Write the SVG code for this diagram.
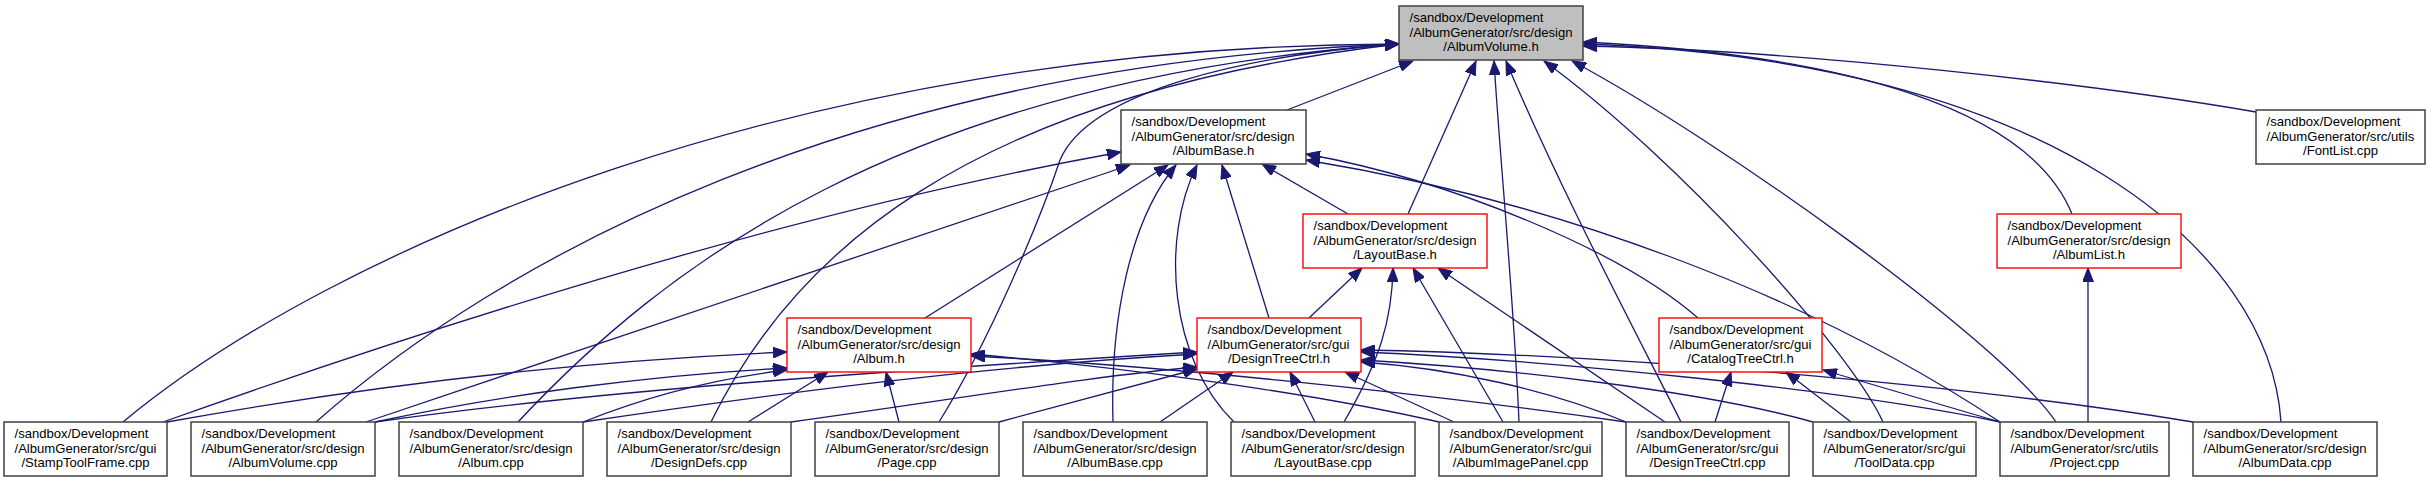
<svg xmlns="http://www.w3.org/2000/svg" width="2432" height="483" viewBox="0 0 2432 483">
<style>
  .bg { fill: #ffffff; }
  .nb { fill: #ffffff; stroke: #404040; stroke-width: 1.5; }
  .nr { fill: #ffffff; stroke: #ff0000; stroke-width: 1.4; }
  .ng { fill: #bfbfbf; stroke: #404040; stroke-width: 1.5; }
  text { font-family: "Liberation Sans", Arial, sans-serif; font-size: 13.1px; fill: #000000; }
  .c { text-anchor: middle; }
  .e { fill: none; stroke: #191970; stroke-width: 1.3; marker-end: url(#arr); }
</style>
<defs>
  <marker id="arr" markerWidth="15" markerHeight="11" refX="14" refY="5.5" orient="auto" markerUnits="userSpaceOnUse">
    <path d="M0,0 L14,5.5 L0,11 z" fill="#191970" stroke="#191970" stroke-width="1"/>
  </marker>
</defs>
<rect class="bg" x="0" y="0" width="2432" height="483"/>

<g id="connectors">
  <!-- to AlbumVolume.h -->
  <path class="e" d="M1287,110 L1413,61"/>
  <path class="e" d="M1408,214 L1476,61"/>
  <path class="e" d="M1519,422 C1514,300 1500,160 1494,61"/>
  <path class="e" d="M1681,422 C1640,340 1560,190 1506,61"/>
  <path class="e" d="M1883,422 C1850,350 1680,160 1544,61"/>
  <path class="e" d="M2056,422 C2000,340 1720,140 1572,61"/>
  <path class="e" d="M2281,422 C2270,250 2050,60 1583,44"/>
  <path class="e" d="M2072,214 C2030,110 1850,55 1583,42"/>
  <path class="e" d="M2256,112 C2100,85 1800,50 1583,46"/>
  <path class="e" d="M123,422 C330,250 800,45 1399,44"/>
  <path class="e" d="M316,422 C500,260 850,65 1399,44"/>
  <path class="e" d="M518,422 C660,270 900,80 1399,44"/>
  <path class="e" d="M711,422 C790,260 960,95 1399,44"/>
  <path class="e" d="M939,422 C990,340 1040,220 1060,160 C1090,90 1250,55 1399,44"/>
  <!-- to AlbumBase.h -->
  <path class="e" d="M163,422 C450,320 800,210 1121,152"/>
  <path class="e" d="M366,422 L1130,165"/>
  <path class="e" d="M925,318 L1168,165"/>
  <path class="e" d="M1113,422 C1110,320 1130,220 1176,165"/>
  <path class="e" d="M1234,422 C1170,360 1160,240 1197,165"/>
  <path class="e" d="M1269,318 L1222,165"/>
  <path class="e" d="M1348,214 L1262,164"/>
  <path class="e" d="M1698,318 C1620,250 1450,180 1306,154"/>
  <path class="e" d="M2000,422 C1800,290 1550,200 1306,160"/>
  <!-- to LayoutBase.h -->
  <path class="e" d="M1309,318 L1362,268"/>
  <path class="e" d="M1344,422 C1380,360 1392,320 1393,268"/>
  <path class="e" d="M1503,422 L1413,268"/>
  <path class="e" d="M1665,422 L1438,268"/>
  <!-- to Album.h -->
  <path class="e" d="M167,422 C400,380 600,360 787,352"/>
  <path class="e" d="M375,422 C500,395 650,375 787,368"/>
  <path class="e" d="M583,422 C650,395 720,378 787,370"/>
  <path class="e" d="M748,422 L828,372"/>
  <path class="e" d="M899,422 L886,372"/>
  <path class="e" d="M1439,422 C1300,390 1100,365 971,354"/>
  <path class="e" d="M1626,422 C1400,390 1150,365 971,356"/>
  <!-- to DesignTreeCtrl.h -->
  <path class="e" d="M375,422 C600,390 900,370 1197,352"/>
  <path class="e" d="M583,422 C800,390 1000,365 1197,354"/>
  <path class="e" d="M791,422 C950,400 1100,375 1197,367"/>
  <path class="e" d="M999,422 L1197,369"/>
  <path class="e" d="M1160,422 L1233,372"/>
  <path class="e" d="M1315,422 L1290,372"/>
  <path class="e" d="M1454,422 L1345,372"/>
  <path class="e" d="M1626,422 C1550,390 1450,368 1361,362"/>
  <path class="e" d="M1813,422 C1700,390 1500,368 1361,360"/>
  <path class="e" d="M2000,422 C1850,390 1550,360 1361,352"/>
  <path class="e" d="M2193,422 C2000,390 1650,355 1361,350"/>
  <!-- to CatalogTreeCtrl.h -->
  <path class="e" d="M1715,422 L1731,372"/>
  <path class="e" d="M1851,422 L1786,372"/>
  <path class="e" d="M2000,422 L1823,370"/>
  <!-- to AlbumList.h -->
  <path class="e" d="M2088,422 L2088,268"/>
</g>

<g id="AlbumVolume_h">
  <rect class="ng" x="1399" y="6" width="184" height="54"/>
  <text x="1409.5" y="22">/sandbox/Development</text>
  <text x="1409.5" y="37">/AlbumGenerator/src/design</text>
  <text class="c" x="1491" y="51">/AlbumVolume.h</text>
</g>
<g id="AlbumBase_h">
  <rect class="nb" x="1121" y="110" width="185" height="54"/>
  <text x="1131.5" y="126">/sandbox/Development</text>
  <text x="1131.5" y="141">/AlbumGenerator/src/design</text>
  <text class="c" x="1213.5" y="155">/AlbumBase.h</text>
</g>
<g id="FontList_cpp">
  <rect class="nb" x="2256" y="110" width="169" height="54"/>
  <text x="2266.5" y="126">/sandbox/Development</text>
  <text x="2266.5" y="141">/AlbumGenerator/src/utils</text>
  <text class="c" x="2340.5" y="155">/FontList.cpp</text>
</g>
<g id="LayoutBase_h">
  <rect class="nr" x="1303" y="214" width="184" height="54"/>
  <text x="1313.5" y="230">/sandbox/Development</text>
  <text x="1313.5" y="245">/AlbumGenerator/src/design</text>
  <text class="c" x="1395" y="259">/LayoutBase.h</text>
</g>
<g id="AlbumList_h">
  <rect class="nr" x="1997" y="214" width="184" height="54"/>
  <text x="2007.5" y="230">/sandbox/Development</text>
  <text x="2007.5" y="245">/AlbumGenerator/src/design</text>
  <text class="c" x="2089" y="259">/AlbumList.h</text>
</g>
<g id="Album_h">
  <rect class="nr" x="787" y="318" width="184" height="54"/>
  <text x="797.5" y="334">/sandbox/Development</text>
  <text x="797.5" y="349">/AlbumGenerator/src/design</text>
  <text class="c" x="879" y="363">/Album.h</text>
</g>
<g id="DesignTreeCtrl_h">
  <rect class="nr" x="1197" y="318" width="164" height="54"/>
  <text x="1207.5" y="334">/sandbox/Development</text>
  <text x="1207.5" y="349">/AlbumGenerator/src/gui</text>
  <text class="c" x="1279" y="363">/DesignTreeCtrl.h</text>
</g>
<g id="CatalogTreeCtrl_h">
  <rect class="nr" x="1659" y="318" width="163" height="54"/>
  <text x="1669.5" y="334">/sandbox/Development</text>
  <text x="1669.5" y="349">/AlbumGenerator/src/gui</text>
  <text class="c" x="1740.5" y="363">/CatalogTreeCtrl.h</text>
</g>
<g id="StampToolFrame_cpp">
  <rect class="nb" x="4" y="422" width="163" height="54"/>
  <text x="14.5" y="438">/sandbox/Development</text>
  <text x="14.5" y="453">/AlbumGenerator/src/gui</text>
  <text class="c" x="85.5" y="467">/StampToolFrame.cpp</text>
</g>
<g id="AlbumVolume_cpp">
  <rect class="nb" x="191" y="422" width="184" height="54"/>
  <text x="201.5" y="438">/sandbox/Development</text>
  <text x="201.5" y="453">/AlbumGenerator/src/design</text>
  <text class="c" x="283" y="467">/AlbumVolume.cpp</text>
</g>
<g id="Album_cpp">
  <rect class="nb" x="399" y="422" width="184" height="54"/>
  <text x="409.5" y="438">/sandbox/Development</text>
  <text x="409.5" y="453">/AlbumGenerator/src/design</text>
  <text class="c" x="491" y="467">/Album.cpp</text>
</g>
<g id="DesignDefs_cpp">
  <rect class="nb" x="607" y="422" width="184" height="54"/>
  <text x="617.5" y="438">/sandbox/Development</text>
  <text x="617.5" y="453">/AlbumGenerator/src/design</text>
  <text class="c" x="699" y="467">/DesignDefs.cpp</text>
</g>
<g id="Page_cpp">
  <rect class="nb" x="815" y="422" width="184" height="54"/>
  <text x="825.5" y="438">/sandbox/Development</text>
  <text x="825.5" y="453">/AlbumGenerator/src/design</text>
  <text class="c" x="907" y="467">/Page.cpp</text>
</g>
<g id="AlbumBase_cpp">
  <rect class="nb" x="1023" y="422" width="184" height="54"/>
  <text x="1033.5" y="438">/sandbox/Development</text>
  <text x="1033.5" y="453">/AlbumGenerator/src/design</text>
  <text class="c" x="1115" y="467">/AlbumBase.cpp</text>
</g>
<g id="LayoutBase_cpp">
  <rect class="nb" x="1231" y="422" width="184" height="54"/>
  <text x="1241.5" y="438">/sandbox/Development</text>
  <text x="1241.5" y="453">/AlbumGenerator/src/design</text>
  <text class="c" x="1323" y="467">/LayoutBase.cpp</text>
</g>
<g id="AlbumImagePanel_cpp">
  <rect class="nb" x="1439" y="422" width="163" height="54"/>
  <text x="1449.5" y="438">/sandbox/Development</text>
  <text x="1449.5" y="453">/AlbumGenerator/src/gui</text>
  <text class="c" x="1520.5" y="467">/AlbumImagePanel.cpp</text>
</g>
<g id="DesignTreeCtrl_cpp">
  <rect class="nb" x="1626" y="422" width="163" height="54"/>
  <text x="1636.5" y="438">/sandbox/Development</text>
  <text x="1636.5" y="453">/AlbumGenerator/src/gui</text>
  <text class="c" x="1707.5" y="467">/DesignTreeCtrl.cpp</text>
</g>
<g id="ToolData_cpp">
  <rect class="nb" x="1813" y="422" width="163" height="54"/>
  <text x="1823.5" y="438">/sandbox/Development</text>
  <text x="1823.5" y="453">/AlbumGenerator/src/gui</text>
  <text class="c" x="1894.5" y="467">/ToolData.cpp</text>
</g>
<g id="Project_cpp">
  <rect class="nb" x="2000" y="422" width="169" height="54"/>
  <text x="2010.5" y="438">/sandbox/Development</text>
  <text x="2010.5" y="453">/AlbumGenerator/src/utils</text>
  <text class="c" x="2084.5" y="467">/Project.cpp</text>
</g>
<g id="AlbumData_cpp">
  <rect class="nb" x="2193" y="422" width="184" height="54"/>
  <text x="2203.5" y="438">/sandbox/Development</text>
  <text x="2203.5" y="453">/AlbumGenerator/src/design</text>
  <text class="c" x="2285" y="467">/AlbumData.cpp</text>
</g>
</svg>
